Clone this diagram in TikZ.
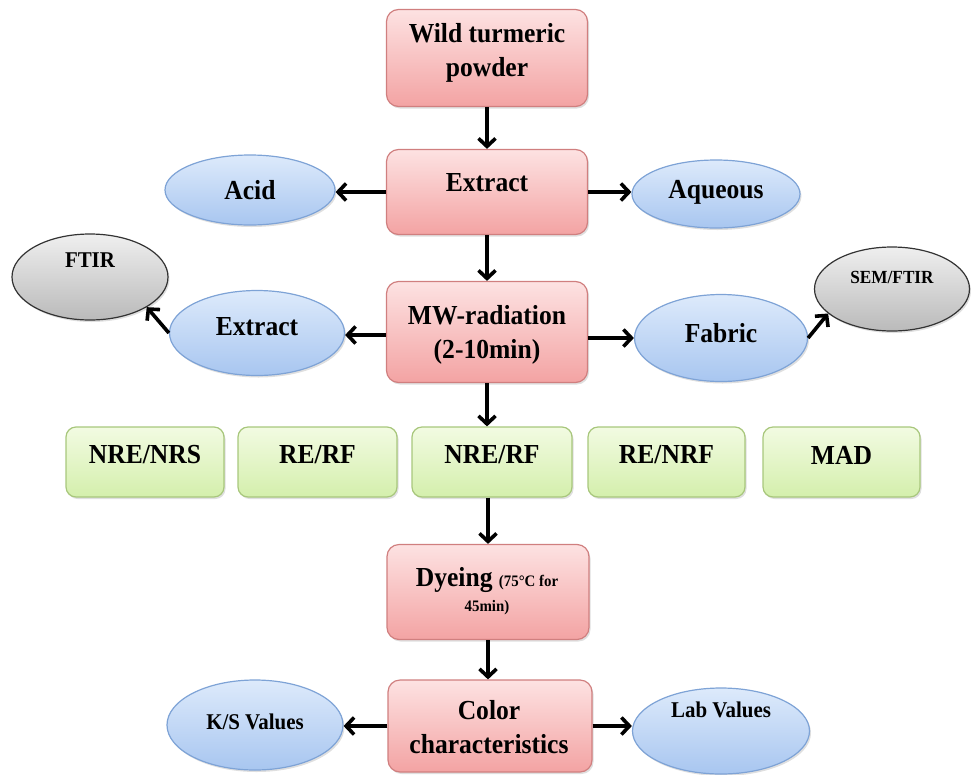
\documentclass[tikz,border=0pt]{standalone}
\usepackage{fontspec}
\setmainfont{Liberation Serif}[FakeStretch=0.93]
\usetikzlibrary{arrows.meta,shapes.geometric,shadows}
\definecolor{pinktop}{HTML}{FDE2E2}
\definecolor{pinkbot}{HTML}{F3A3A3}
\definecolor{pinkline}{HTML}{D07F7F}
\definecolor{bluetop}{HTML}{DDEAFB}
\definecolor{bluebot}{HTML}{A8C6F0}
\definecolor{blueline}{HTML}{7EA3D6}
\definecolor{graytop}{HTML}{EFEFEF}
\definecolor{graybot}{HTML}{BABABA}
\definecolor{grayline}{HTML}{333333}
\definecolor{greentop}{HTML}{F2FBE2}
\definecolor{greenbot}{HTML}{D4EFAC}
\definecolor{greenline}{HTML}{A8C77C}
\begin{document}
\begin{tikzpicture}[x=1pt,y=-1pt,
  shd/.style={drop shadow={opacity=0.25,shadow xshift=1.5pt,shadow yshift=-2pt}},
  pinkbox/.style={rectangle,rounded corners=12pt,draw=pinkline,line width=1.2pt,top color=pinktop,bottom color=pinkbot,inner sep=0pt,shd},
  greenbox/.style={rectangle,rounded corners=10pt,draw=greenline,line width=1.2pt,top color=greentop,bottom color=greenbot,inner sep=0pt,minimum height=70pt,shd},
  blueell/.style={ellipse,draw=blueline,line width=1.2pt,top color=bluetop,bottom color=bluebot,inner sep=0pt,shd},
  grayell/.style={ellipse,draw=grayline,line width=1.2pt,top color=graytop,bottom color=graybot,inner sep=0pt,shd},
  big/.style={font=\fontsize{27.5}{34}\selectfont\bfseries,align=center,inner sep=0pt},
  mid/.style={font=\fontsize{22.5}{26}\selectfont\bfseries,align=center,inner sep=0pt},
  sml/.style={font=\fontsize{18.5}{22}\selectfont\bfseries,align=center,inner sep=0pt},
  arr/.style={line width=3.6pt,-{Straight Barb[length=8pt,width=17pt,line width=3.6pt]}}
]
\useasboundingbox (0,0) rectangle (971,774);
% main column boxes
\node[pinkbox,minimum width=201pt,minimum height=97pt] (wild) at (487,58) {};
\node[pinkbox,minimum width=201pt,minimum height=85pt] (extr) at (487,192) {};
\node[pinkbox,minimum width=201pt,minimum height=101pt] (mw) at (487,332) {};
\node[pinkbox,minimum width=202pt,minimum height=95pt] (dye) at (488,592) {};
\node[pinkbox,minimum width=204pt,minimum height=92pt] (col) at (490,726) {};
% ellipses
\node[blueell,minimum width=170pt,minimum height=70pt] (acid) at (250,190) {};
\node[blueell,minimum width=168pt,minimum height=68pt] (aq) at (716,194) {};
\node[blueell,minimum width=175pt,minimum height=85pt] (ext2) at (257,333) {};
\node[grayell,minimum width=156pt,minimum height=86pt] (ftir) at (90,277) {};
\node[blueell,minimum width=173pt,minimum height=87pt] (fab) at (721,338) {};
\node[grayell,minimum width=155pt,minimum height=84pt] (sem) at (892,289) {};
\node[blueell,minimum width=176pt,minimum height=90pt] (ks) at (255,725) {};
\node[blueell,minimum width=177pt,minimum height=86pt] (lab) at (721,731) {};
% green boxes
\node[greenbox,minimum width=158pt] (g1) at (145,462) {};
\node[greenbox,minimum width=159pt] (g2) at (317.5,462) {};
\node[greenbox,minimum width=160pt] (g3) at (492,462) {};
\node[greenbox,minimum width=157pt] (g4) at (666.5,462) {};
\node[greenbox,minimum width=157pt] (g5) at (841.5,462) {};
% texts
\node[big] (twild) at (487,53) {Wild turmeric\\powder};
\node[big] (textr) at (487,183) {Extract};
\node[big] (tmw) at (487,335) {MW-radiation\\(2-10min)};
\node[big,font=\fontsize{27.5}{27}\selectfont\bfseries] (tdye) at (487,591) {Dyeing {\fontsize{16}{18}\selectfont (75°C for}\\[-2pt]{\fontsize{16}{18}\selectfont 45min)}};
\node[big] (tcol) at (489,727) {Color\\characteristics};
\node[big] (tacid) at (250,190) {Acid};
\node[big] (taq) at (716,192) {Aqueous};
\node[big] (text2) at (257,327) {Extract};
\node[mid] (tftir) at (90,260) {FTIR};
\node[big] (tfab) at (721,333) {Fabric};
\node[sml] (tsem) at (892,277) {SEM/FTIR};
\node[mid] (tks) at (255,722) {K/S Values};
\node[mid] (tlab) at (721,710) {Lab Values};
\node[big] (tg1) at (145,455) {NRE/NRS};
\node[big] (tg2) at (317.5,455) {RE/RF};
\node[big] (tg3) at (492,455) {NRE/RF};
\node[big] (tg4) at (666.5,455) {RE/NRF};
\node[big] (tg5) at (841.5,455) {MAD};
% arrows
\draw[arr] (wild.south) -- (extr.north);
\draw[arr] (extr.west) -- (extr.west -| acid.east);
\draw[arr] (extr.east) -- (extr.east -| aq.west);
\draw[arr] (extr.south) -- (mw.north);
\draw[arr] ([yshift=-3pt]mw.west) -- ([yshift=-3pt]mw.west -| ext2.east);
\draw[arr] ([yshift=-6pt]mw.east) -- ([yshift=-6pt]mw.east -| fab.west);
\draw[arr] (ext2.west) -- (ftir.-28);
\draw[arr] (fab.east) -- (sem.201);
\draw[arr] (mw.south) -- (mw.south |- g3.north);
\draw[arr] (dye.north |- g3.south) -- (dye.north);
\draw[arr] (dye.south) -- (dye.south |- col.north);
\draw[arr] (col.west) -- (col.west -| ks.east);
\draw[arr] (col.east) -- (col.east -| lab.west);
\end{tikzpicture}
\end{document}
